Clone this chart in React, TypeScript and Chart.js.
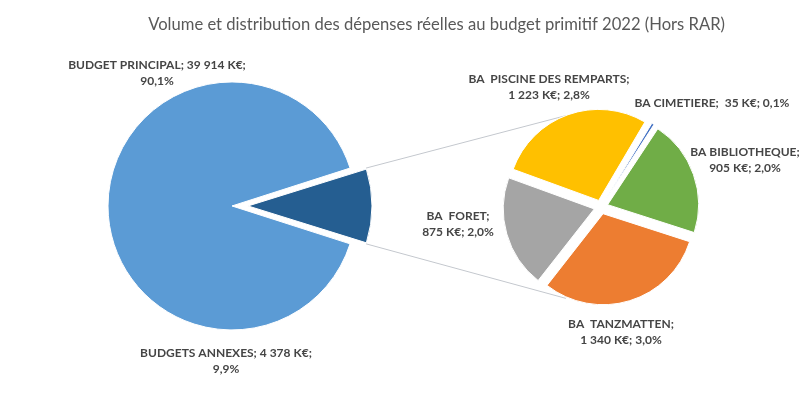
import React, { useEffect, useRef } from 'react';
import { Chart, registerables } from 'chart.js';

Chart.register(...registerables);

const TITLE = 'Volume et distribution des dépenses réelles au budget primitif 2022 (Hors RAR)';

const mainCategories = ['BUDGET PRINCIPAL', 'BUDGETS ANNEXES'];
const mainValues = [39914, 4378];
const mainColors = ['#5B9BD5', '#255E91'];

const subCategories = ['BA  PISCINE DES REMPARTS', 'BA CIMETIERE', 'BA BIBLIOTHEQUE', 'BA  TANZMATTEN', 'BA  FORET'];
const subValues = [1223, 35, 905, 1340, 875];
const subColors = ['#FFC000', '#4472C4', '#70AD47', '#ED7D31', '#A5A5A5'];

const FONT = 'Lato, "Open Sans", sans-serif';
const LABEL_COLOR = '#454545';
const TITLE_COLOR = '#595959';

const grandTotal = mainValues.reduce((a, b) => a + b, 0);

function fmtK(v: number): string {
  return String(v).replace(/\B(?=(\d{3})+(?!\d))/g, ' ') + ' K€';
}
function fmtPct(v: number): string {
  return ((v / grandTotal) * 100).toFixed(1).replace('.', ',') + '%';
}

type LabelLayout = { dx: number; dy: number; split: 'pct' | 'value' | 'none' };

// label placement relative to the pie centre
const mainLabelLayout: LabelLayout[] = [
  { dx: -75, dy: -133, split: 'pct' },
  { dx: -6, dy: 155, split: 'pct' },
];
const subLabelLayout: LabelLayout[] = [
  { dx: -52, dy: -120, split: 'value' },
  { dx: 111, dy: -104, split: 'none' },
  { dx: 144, dy: -47, split: 'value' },
  { dx: 20, dy: 125, split: 'value' },
  { dx: -143, dy: 17, split: 'value' },
];

function buildLines(names: string[], values: number[], layout: LabelLayout[]): string[][] {
  return names.map((n, i) => {
    const k = fmtK(values[i]);
    const p = fmtPct(values[i]);
    const s = layout[i].split;
    if (s === 'pct') return [`${n}; ${k};`, p];
    if (s === 'value') return [`${n};`, `${k}; ${p}`];
    return [`${n};  ${k}; ${p}`];
  });
}

// make exploded slices keep the same radius (Chart.js enlarges narrow exploded arcs)
const explodeFix = {
  id: 'explodeFix',
  afterDatasetUpdate(chart: any, args: any) {
    const meta = chart.getDatasetMeta(args.index);
    meta.data.forEach((arc: any) => {
      const off = ((arc.options && arc.options.offset) || 0) / 4;
      const fix = 1 - Math.sin(Math.min(Math.PI, arc.circumference || 0));
      arc.outerRadius = Math.max(arc.outerRadius - off * fix, 0);
    });
  },
};

function makeLabelPlugin(lines: string[][], layout: LabelLayout[]) {
  return {
    id: 'pieLabels',
    afterDatasetsDraw(chart: any) {
      const meta = chart.getDatasetMeta(0);
      const ctx = chart.ctx;
      ctx.save();
      ctx.font = `bold 12px ${FONT}`;
      ctx.fillStyle = LABEL_COLOR;
      ctx.textAlign = 'center';
      ctx.textBaseline = 'middle';
      const lh = 16.5;
      meta.data.forEach((arc: any, i: number) => {
        const lay = layout[i];
        const ls = lines[i];
        const cx = arc.x + lay.dx;
        const cy = arc.y + lay.dy;
        ls.forEach((t, k) => ctx.fillText(t, cx, cy + (k - (ls.length - 1) / 2) * lh));
      });
      ctx.restore();
    },
  };
}

const CONNECTOR_ANGLE = 111; // degrees from the right, on the secondary pie
const CONNECTOR_REACH = 7;

function makeConnectorPlugin(getMain: () => any) {
  return {
    id: 'connectors',
    beforeDatasetsDraw(chart: any) {
      const main = getMain();
      if (!main) return;
      const mArc: any = main.getDatasetMeta(0).data[1];
      const sArc: any = chart.getDatasetMeta(0).data[0];
      if (!mArc || !sArc) return;
      const rA = main.canvas.getBoundingClientRect();
      const rB = chart.canvas.getBoundingClientRect();
      const ox = rA.left - rB.left;
      const oy = rA.top - rB.top;
      const sa = mArc.startAngle;
      const ea = mArc.endAngle;
      const mid = (sa + ea) / 2;
      const t = ((mArc.options && mArc.options.offset) || 0) / 4;
      const R = mArc.outerRadius + t * (1 - Math.sin(Math.min(Math.PI, ea - sa)));
      const bx = mArc.x + ox + Math.cos(mid) * t;
      const by = mArc.y + oy + Math.sin(mid) * t;
      const a = (CONNECTOR_ANGLE * Math.PI) / 180;
      const Rs = sArc.outerRadius + CONNECTOR_REACH;
      const ctx = chart.ctx;
      ctx.save();
      ctx.strokeStyle = '#C4C8CE';
      ctx.lineWidth = 1;
      ctx.beginPath();
      ctx.moveTo(bx + Math.cos(sa) * R, by + Math.sin(sa) * R);
      ctx.lineTo(sArc.x + Math.cos(-a) * Rs, sArc.y + Math.sin(-a) * Rs);
      ctx.moveTo(bx + Math.cos(ea) * R, by + Math.sin(ea) * R);
      ctx.lineTo(sArc.x + Math.cos(a) * Rs, sArc.y + Math.sin(a) * Rs);
      ctx.stroke();
      ctx.restore();
    },
  };
}

export default function App() {
  const refA = useRef<HTMLCanvasElement>(null);
  const refB = useRef<HTMLCanvasElement>(null);

  useEffect(() => {
    if (!refA.current || !refB.current) return;
    const mainChart = new Chart(refA.current, {
      type: 'pie',
      data: {
        labels: mainCategories,
        datasets: [
          {
            data: mainValues,
            backgroundColor: mainColors,
            borderColor: '#ffffff',
            borderWidth: 1,
            offset: [0, 64],
            radius: 124,
            rotation: 90 + (mainValues[1] / grandTotal) * 180,
          } as any,
        ],
      },
      options: {
        animation: false,
        responsive: false,
        events: [],
        layout: { padding: { left: 0, right: 75, top: 0, bottom: 25 } },
        plugins: {
          legend: { display: false },
          tooltip: { enabled: false },
          title: {
            display: true,
            text: TITLE,
            align: 'end',
            color: TITLE_COLOR,
            font: { family: FONT, size: 16.6, weight: 'normal', lineHeight: 1.2 },
            padding: { top: 15, bottom: 8 },
          },
        },
      } as any,
      plugins: [explodeFix, makeLabelPlugin(buildLines(mainCategories, mainValues, mainLabelLayout), mainLabelLayout)],
    });

    const subChart = new Chart(refB.current, {
      type: 'pie',
      data: {
        labels: subCategories,
        datasets: [
          {
            data: subValues,
            backgroundColor: subColors,
            borderColor: '#ffffff',
            borderWidth: 1,
            offset: 28,
            radius: 91,
            rotation: -70,
          } as any,
        ],
      },
      options: {
        animation: false,
        responsive: false,
        events: [],
        layout: { padding: { left: 402, right: 0, top: 20, bottom: 0 } },
        plugins: {
          legend: { display: false },
          tooltip: { enabled: false },
          title: { display: false },
        },
      } as any,
      plugins: [
        explodeFix,
        makeConnectorPlugin(() => mainChart),
        makeLabelPlugin(buildLines(subCategories, subValues, subLabelLayout), subLabelLayout),
      ],
    });

    return () => {
      subChart.destroy();
      mainChart.destroy();
    };
  }, []);

  return (
    <div
      style={{
        position: 'absolute',
        left: 0,
        top: 0,
        width: 800,
        height: 394,
        overflow: 'hidden',
        background: '#ffffff',
      }}
    >
      <canvas ref={refA} width={1061} height={394} style={{ position: 'absolute', left: -261, top: 0 }} />
      <canvas ref={refB} width={800} height={394} style={{ position: 'absolute', left: 0, top: 0 }} />
    </div>
  );
}
